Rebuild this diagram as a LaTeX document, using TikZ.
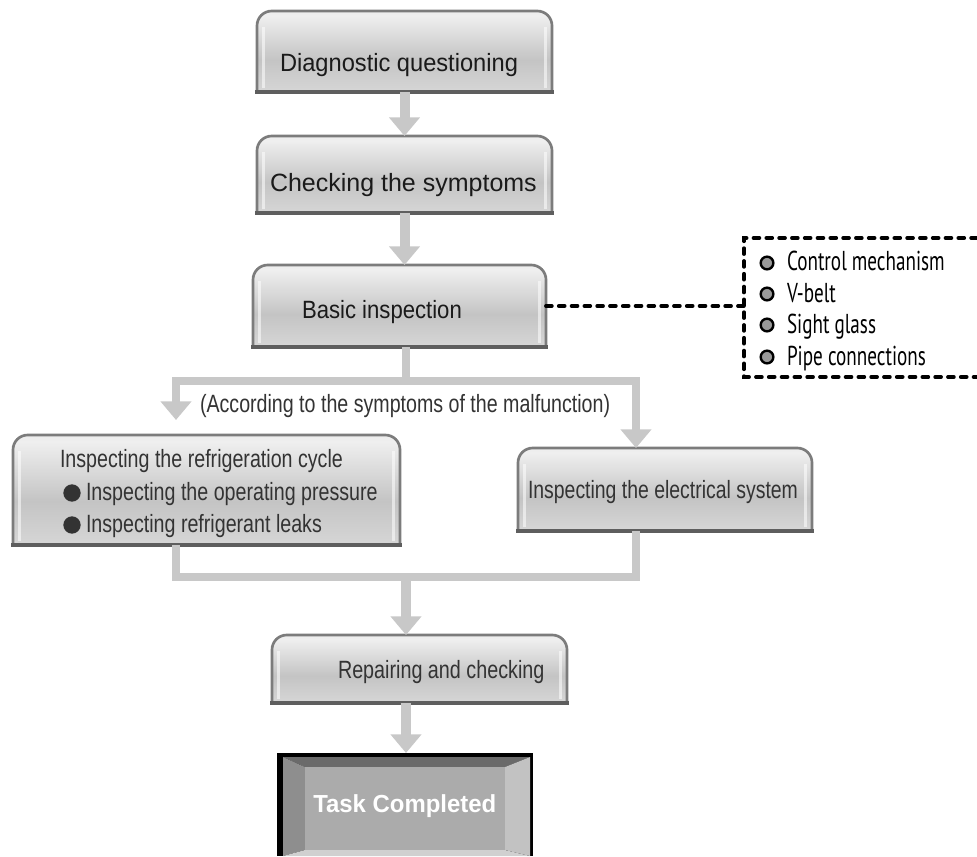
\documentclass[tikz,border=0pt]{standalone}
\usepackage{fontspec}
\setmainfont{Liberation Sans}
\newfontfamily\listfont{PT Sans}
\usepackage{graphicx}
\usetikzlibrary{arrows.meta,calc}

\definecolor{arrgray}{HTML}{C8C8C8}
\definecolor{bordergray}{HTML}{7C7C7C}
\definecolor{bargray}{HTML}{5E5E5E}
\definecolor{shA}{HTML}{D2D2D2}
\definecolor{shB}{HTML}{E4E4E4}
\definecolor{shC}{HTML}{C4C4C4}
\definecolor{shD}{HTML}{EFEFEF}
\definecolor{shE}{HTML}{E2E2E2}
\definecolor{shF}{HTML}{CDCDCD}
\definecolor{txtdark}{HTML}{1A1A1A}
\definecolor{txtgray}{HTML}{333333}
\definecolor{dotgray}{HTML}{9A9A9A}
\definecolor{bevtop}{HTML}{6A6A6A}
\definecolor{bevleft}{HTML}{8E8E8E}
\definecolor{bevright}{HTML}{C2C2C2}
\definecolor{bevbot}{HTML}{D0D0D0}
\definecolor{bevface}{HTML}{ABABAB}

\pgfdeclareverticalshading{boxshade}{100bp}{color(0bp)=(shA); color(10bp)=(shB); color(45bp)=(shC); color(72bp)=(shD); color(88bp)=(shE); color(100bp)=(shF)}

\newcommand{\bigf}{\fontsize{18.75pt}{22pt}\selectfont}
\newcommand{\sx}[2]{\scalebox{#1}[1]{#2}}

\newcommand{\gshape}[2][11pt]{%
  \path[shading=boxshade] (#2.south west) -- ([yshift=-#1]#2.north west)
    arc[start angle=180,end angle=90,radius=#1] -- ([xshift=-#1]#2.north east)
    arc[start angle=90,end angle=0,radius=#1] -- (#2.south east) -- cycle;
  \draw[white,opacity=.55,line width=2.5pt] ([xshift=5pt,yshift=-12pt]#2.north west) -- ([xshift=5pt,yshift=3pt]#2.south west);
  \draw[white,opacity=.55,line width=2.5pt] ([xshift=-5pt,yshift=-12pt]#2.north east) -- ([xshift=-5pt,yshift=3pt]#2.south east);
  \draw[bordergray,line width=2pt] (#2.south west) -- ([yshift=-#1]#2.north west)
    arc[start angle=180,end angle=90,radius=#1] -- ([xshift=-#1]#2.north east)
    arc[start angle=90,end angle=0,radius=#1] -- (#2.south east);
  \draw[bargray,line width=3.2pt] ([xshift=-1.5pt]#2.south west) -- ([xshift=1.5pt]#2.south east);
}

\tikzset{
  boxn/.style={rectangle,inner sep=0pt,outer sep=0pt},
  lbl/.style={inner sep=0pt,outer sep=0pt,anchor=base west,font=\bigf,text=txtdark},
  lbll/.style={lbl,text=txtgray},
  arrowmain/.style={draw=arrgray,line width=7.5pt,-{Triangle[width=22.5pt,length=14pt]}},
  arrowbr/.style={draw=arrgray,line width=6pt,miter limit=10,-{Triangle[width=22.5pt,length=14pt]}},
  linebr/.style={draw=arrgray,line width=6pt},
  dashline/.style={draw=black,line width=2.8pt,line cap=round,dash pattern=on 4.4pt off 5.2pt},
  itemdot/.style={circle,draw=black,line width=1.8pt,fill=dotgray,minimum size=9.5pt,inner sep=0pt},
  itemtxt/.style={inner sep=0pt,outer sep=0pt,anchor=base west,font=\listfont\fontsize{20.5pt}{22pt}\selectfont},
  bul/.style={circle,fill=txtgray,minimum size=13pt,inner sep=0pt},
}

\begin{document}
\begin{tikzpicture}[x=0.75pt,y=-0.75pt]
\useasboundingbox (0,0) rectangle (977,856);

% box nodes
\node[boxn,minimum width=221.25pt,minimum height=60.75pt] (b1) at (404.5,51.5) {};
\node[boxn,minimum width=221.25pt,minimum height=57.75pt] (b2) at (404.5,174.5) {};
\node[boxn,minimum width=219.75pt,minimum height=61.5pt] (b3) at (399.5,306) {};
\node[boxn,minimum width=290.25pt,minimum height=82.5pt] (bl) at (206.5,490) {};
\node[boxn,minimum width=220.5pt,minimum height=62.25pt] (br) at (665,489.5) {};
\node[boxn,minimum width=221.25pt,minimum height=51pt] (b4) at (419.5,669) {};
\node[boxn,minimum width=192pt,minimum height=77.25pt] (tc) at (405,804.5) {};
\node[boxn,minimum width=174.75pt,minimum height=104.25pt] (list) at (860.5,307.5) {};

\gshape{b1}
\gshape{b2}
\gshape{b3}
\gshape{bl}
\gshape{br}
\gshape{b4}

% Task completed box
\fill[black] (277,753) rectangle (533,856);
\fill[bevtop] (283,757) -- (530,757) -- (505,767) -- (305,767) -- cycle;
\fill[bevleft] (283,757) -- (305,767) -- (305,850) -- (283,856) -- cycle;
\fill[bevright] (530,757) -- (505,767) -- (505,850) -- (530,856) -- cycle;
\fill[bevbot] (305,850) -- (505,850) -- (530,856) -- (283,856) -- cycle;
\fill[bevface] (305,767) rectangle (505,850);

% texts
\node[lbl] (t1) at (280,72) {\sx{0.946}{Diagnostic questioning}};
\node[lbl] (t2) at (270,191) {\sx{1.0}{Checking the symptoms}};
\node[lbl] (t3) at (302,318) {\sx{0.885}{Basic inspection}};
\node[lbll] (ta) at (200,412) {\sx{0.785}{(According to the symptoms of the malfunction)}};
\node[lbll] (tl1) at (60,467) {\sx{0.786}{Inspecting the refrigeration cycle}};
\node[bul] (d1) at (72,493) {};
\node[lbll] (tl2) at (86,500) {\sx{0.786}{Inspecting the operating pressure}};
\node[bul] (d2) at (72,525) {};
\node[lbll] (tl3) at (86,532) {\sx{0.786}{Inspecting refrigerant leaks}};
\node[lbll] (tr) at (528,498) {\sx{0.777}{Inspecting the electrical system}};
\node[lbll] (t4) at (338,678) {\sx{0.79}{Repairing and checking}};
\node[inner sep=0pt,anchor=base west,text=white,font=\bfseries\fontsize{18.5pt}{20pt}\selectfont] (ttc) at (313,812) {\sx{0.97}{Task Completed}};

% list items
\node[itemdot] (c1) at (767,263) {};
\node[itemdot] (c2) at (767,294) {};
\node[itemdot] (c3) at (767,325) {};
\node[itemdot] (c4) at (767,357) {};
\node[itemtxt] (i1) at (787,270) {\sx{0.7}{Control mechanism}};
\node[itemtxt] (i2) at (787,302) {\sx{0.7}{V-belt}};
\node[itemtxt] (i3) at (787,333) {\sx{0.7}{Sight glass}};
\node[itemtxt] (i4) at (787,365) {\sx{0.7}{Pipe connections}};

% dashed box and connector
\draw[dashline] (list.north east) -- (list.north west) -- (list.south west) -- (list.south east);
\draw[dashline] (b3.east) -- (b3.east -| list.west);

% arrows
\draw[arrowmain] (b1.south) -- (b2.north);
\draw[arrowmain] (b2.south) -- (b2.south |- b3.north);
\coordinate (sp) at (406,381);
\coordinate (lx) at (176,381);
\coordinate (rx) at (636,381);
\draw[linebr] (b3.south -| sp) -- (sp);
\draw[arrowbr] (sp) -- (lx) -- ([yshift=11.25pt]lx |- bl.north);
\draw[arrowbr] (sp) -- (rx) -- (rx |- br.north);
\coordinate (mg) at (406,576.5);
\draw[linebr] (bl.south -| lx) -- (lx |- mg) -- (rx |- mg) -- (br.south -| rx);
\draw[arrowmain] (mg) -- (b4.north -| mg);
\draw[arrowmain] (b4.south -| mg) -- (tc.north -| mg);
\end{tikzpicture}
\end{document}
